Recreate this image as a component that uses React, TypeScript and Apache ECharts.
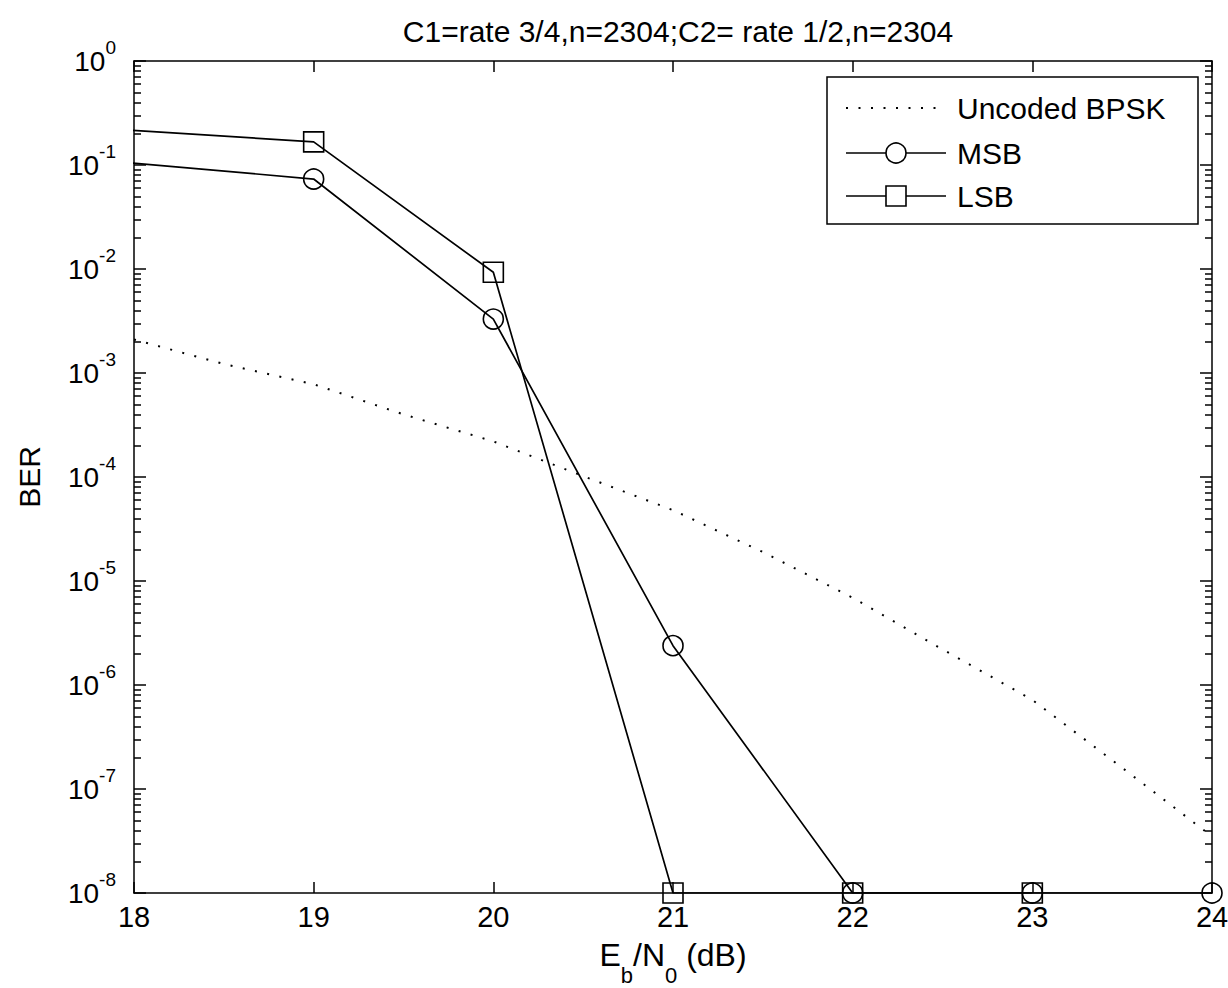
import React, { useEffect, useRef } from "react";
import * as echarts from "echarts";

const FONT = "'Liberation Sans', Arial, sans-serif";

const snrTicks = [18, 19, 20, 21, 22, 23, 24];
const codedSnr = [17, 19, 20, 21, 22, 23, 24];
const msbBer = [0.148, 0.0733, 0.0033, 2.39e-6, 1e-8, 1e-8, 1e-8];
const lsbBer = [0.277, 0.167, 0.0093, 1e-8, 1e-8, 1e-8, null];
const uncodedSnr = [18, 18.5, 19, 19.5, 20, 20.5, 21, 21.5, 22, 22.5, 23, 23.5, 24];
const uncodedBer = [2.1e-3, 1.22e-3, 7.8e-4, 4.0e-4, 2.2e-4, 1.02e-4, 4.8e-5, 1.9e-5, 6.9e-6, 2.2e-6, 7.2e-7, 1.6e-7, 3.5e-8];
const decadeExponents = [-8, -7, -6, -5, -4, -3, -2, -1];
const minorMantissas = [2, 3, 4, 5, 6, 7, 8, 9];
const minorTickValues = decadeExponents.flatMap((e) => minorMantissas.map((m) => m * Math.pow(10, e)));

const titleText = "C1=rate 3/4,n=2304;C2= rate 1/2,n=2304";
const legendNames = ["Uncoded BPSK", "MSB", "LSB"];

export default function App() {
  const ref = useRef<HTMLDivElement>(null);
  useEffect(() => {
    if (!ref.current) return;
    const chart = echarts.init(ref.current, null, { renderer: "svg" });
    const yBase = {
      type: "log",
      logBase: 10,
      min: 1e-8,
      max: 1,
      interval: 1,
      splitLine: { show: false },
    };
    const xBase = {
      type: "value",
      min: snrTicks[0],
      max: snrTicks[snrTicks.length - 1],
      interval: 1,
      splitLine: { show: false },
    };
    const lineAxis = { show: true, lineStyle: { color: "#000", width: 1.5 } };
    const option: any = {
      animation: false,
      backgroundColor: "#fff",
      title: {
        text: titleText,
        left: 673,
        top: 11,
        textAlign: "center",
        textStyle: { fontFamily: FONT, fontSize: 30, fontWeight: "normal", color: "#000" },
      },
      grid: { left: 134, right: 16, top: 61, bottom: 95, containLabel: false, outerBoundsMode: "none" },
      xAxis: [
        {
          ...xBase,
          position: "bottom",
          axisLine: lineAxis,
          axisTick: { show: true, inside: true, length: 11, lineStyle: { color: "#000", width: 1.5 } },
          axisLabel: { show: true, margin: 9, color: "#000", fontFamily: FONT, fontSize: 29 },
          name: "{n|E}{sub|b}{n|/N}{sub|0}{n| (dB)}",
          nameLocation: "middle",
          nameGap: 31,
          nameTextStyle: {
            color: "#000",
            rich: {
              n: { fontFamily: FONT, fontSize: 32, lineHeight: 62, color: "#000" },
              sub: { fontFamily: FONT, fontSize: 22, lineHeight: 22, verticalAlign: "bottom", color: "#000" },
            },
          },
        },
        {
          ...xBase,
          position: "top",
          axisLine: lineAxis,
          axisTick: { show: true, inside: true, length: 11, lineStyle: { color: "#000", width: 1.5 } },
          axisLabel: { show: false },
        },
      ],
      yAxis: [
        {
          ...yBase,
          position: "left",
          axisLine: lineAxis,
          axisTick: { show: true, inside: true, length: 12, lineStyle: { color: "#000", width: 1.5 } },
          axisLabel: {
            show: true,
            margin: 18,
            formatter: (v: number) => `{b|10}{s|${Math.round(Math.log10(v))}}`,
            rich: {
              b: { fontFamily: FONT, fontSize: 28, lineHeight: 46, color: "#000" },
              s: { fontFamily: FONT, fontSize: 19, lineHeight: 19, verticalAlign: "top", color: "#000" },
            },
          },
          name: "BER",
          nameLocation: "middle",
          nameGap: 90,
          nameTextStyle: { fontFamily: FONT, fontSize: 30, color: "#000" },
        },
        {
          ...yBase,
          position: "left",
          axisLine: { show: false },
          axisTick: { show: true, inside: true, length: 7, customValues: minorTickValues, lineStyle: { color: "#000", width: 1.5 } },
          axisLabel: { show: false },
        },
        {
          ...yBase,
          position: "right",
          axisLine: lineAxis,
          axisTick: { show: true, inside: true, length: 12, lineStyle: { color: "#000", width: 1.5 } },
          axisLabel: { show: false },
        },
        {
          ...yBase,
          position: "right",
          axisLine: { show: false },
          axisTick: { show: true, inside: true, length: 7, customValues: minorTickValues, lineStyle: { color: "#000", width: 1.5 } },
          axisLabel: { show: false },
        },
      ],
      series: [
        {
          name: legendNames[0],
          type: "line",
          xAxisIndex: 0,
          yAxisIndex: 0,
          data: uncodedSnr.map((x, i) => [x, uncodedBer[i]]),
          showSymbol: false,
          symbol: "none",
          clip: true,
          lineStyle: { color: "#000", width: 2, type: [2, 10.5] },
        },
        {
          name: legendNames[1],
          type: "line",
          xAxisIndex: 0,
          yAxisIndex: 0,
          data: codedSnr.map((x, i) => [x, msbBer[i]]),
          symbol: "circle",
          symbolSize: 20,
          clip: true,
          itemStyle: { color: "rgba(0,0,0,0)", borderColor: "#000", borderWidth: 1.6 },
          lineStyle: { color: "#000", width: 1.7 },
        },
        {
          name: legendNames[2],
          type: "line",
          xAxisIndex: 0,
          yAxisIndex: 0,
          data: codedSnr.map((x, i) => [x, lsbBer[i]]).filter((p) => p[1] != null),
          symbol: "rect",
          symbolSize: 20,
          clip: true,
          itemStyle: { color: "rgba(0,0,0,0)", borderColor: "#000", borderWidth: 1.6 },
          lineStyle: { color: "#000", width: 1.7 },
        },
      ],
      graphic: [
        {
          type: "rect",
          z: 100,
          shape: { x: 827, y: 77, width: 371, height: 147 },
          style: { fill: "#fff", stroke: "#000", lineWidth: 1.5 },
        },
        {
          type: "line",
          z: 101,
          shape: { x1: 846, y1: 108, x2: 946, y2: 108 },
          style: { stroke: "#000", lineWidth: 2, lineDash: [2, 10.5] },
        },
        {
          type: "text",
          z: 101,
          x: 957,
          y: 108,
          style: { text: legendNames[0], fill: "#000", fontFamily: FONT, fontSize: 30, verticalAlign: "middle", align: "left" },
        },
        {
          type: "line",
          z: 101,
          shape: { x1: 846, y1: 153, x2: 946, y2: 153 },
          style: { stroke: "#000", lineWidth: 1.6 },
        },
        {
          type: "circle",
          z: 102,
          shape: { cx: 896, cy: 153, r: 10 },
          style: { fill: "#fff", stroke: "#000", lineWidth: 1.6 },
        },
        {
          type: "text",
          z: 101,
          x: 957,
          y: 153,
          style: { text: legendNames[1], fill: "#000", fontFamily: FONT, fontSize: 30, verticalAlign: "middle", align: "left" },
        },
        {
          type: "line",
          z: 101,
          shape: { x1: 846, y1: 196, x2: 946, y2: 196 },
          style: { stroke: "#000", lineWidth: 1.6 },
        },
        {
          type: "rect",
          z: 102,
          shape: { x: 886, y: 186, width: 20, height: 20 },
          style: { fill: "#fff", stroke: "#000", lineWidth: 1.6 },
        },
        {
          type: "text",
          z: 101,
          x: 957,
          y: 196,
          style: { text: legendNames[2], fill: "#000", fontFamily: FONT, fontSize: 30, verticalAlign: "middle", align: "left" },
        },
      ],
    };
    chart.setOption(option);
    return () => chart.dispose();
  }, []);
  return (
    <div
      ref={ref}
      style={{ position: "fixed", left: 0, top: 0, width: 1228, height: 988, background: "#fff" }}
    />
  );
}
